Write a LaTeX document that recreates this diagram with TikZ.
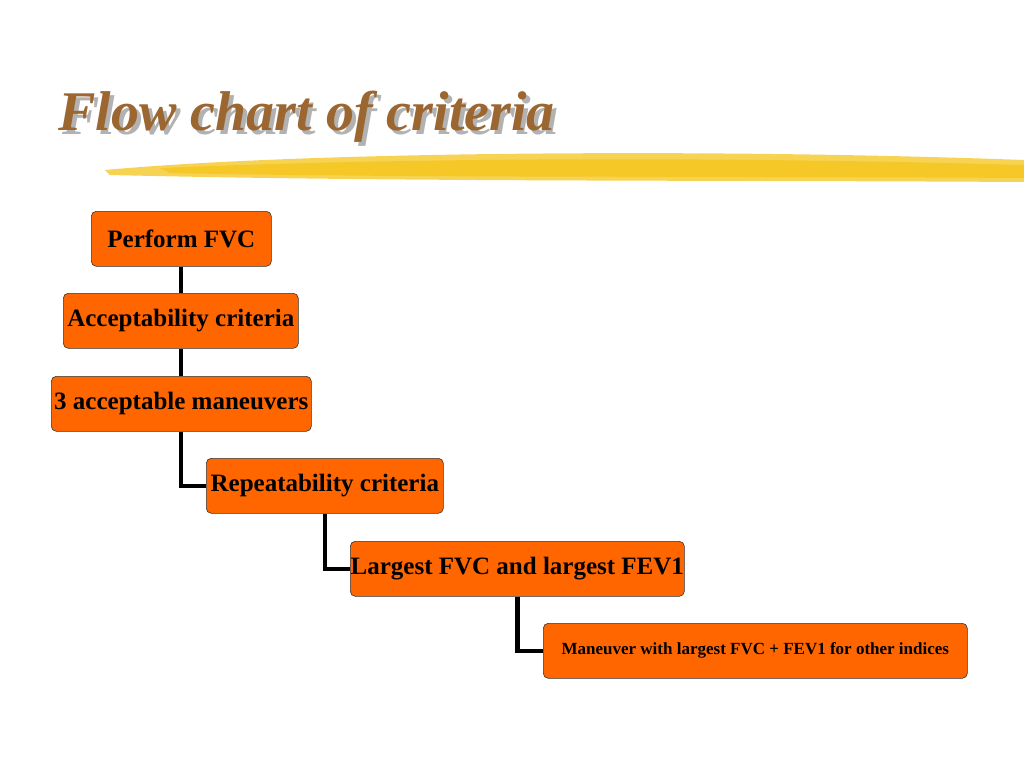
\documentclass[tikz,border=0pt]{standalone}
\usepackage{fontspec}
\setmainfont{Liberation Serif}
\begin{document}
\begin{tikzpicture}[x=1pt,y=-1pt,
  box/.style={draw=black!80,fill={rgb,255:red,255;green,102;blue,0},rounded corners=5pt,line width=0.6pt,font=\bfseries\fontsize{25}{28}\selectfont,inner sep=0pt,anchor=north west},
  link/.style={line width=4.5pt}]
\useasboundingbox (0,0) rectangle (1024,768);
\definecolor{brn}{RGB}{155,102,48}
\definecolor{yel}{RGB}{245,200,40}
% brush stroke
\fill[yel!80] (105,170) .. controls (300,152) and (700,148) .. (1024,160) -- (1024,182) .. controls (700,180) and (400,182) .. (110,175) -- cycle;
\fill[yel] (160,168) .. controls (400,158) and (700,156) .. (1024,165) -- (1024,178) .. controls (700,176) and (400,178) .. (170,173) -- cycle;
% title
\node[anchor=west,text=gray!60,font=\bfseries\itshape\fontsize{56}{60}\selectfont] (tshadow) at (59,121) {Flow chart of criteria};
\node[anchor=west,text=brn,font=\bfseries\itshape\fontsize{56}{60}\selectfont] (title) at (55,117) {Flow chart of criteria};
% boxes
\node[box,minimum width=180pt,minimum height=55pt] (b1) at (91,211) {Perform FVC};
\node[box,minimum width=235pt,minimum height=55pt] (b2) at (63,293) {Acceptability criteria};
\node[box,minimum width=260pt,minimum height=55pt] (b3) at (51,376) {3 acceptable maneuvers};
\node[box,minimum width=237pt,minimum height=55pt] (b4) at (206,458) {Repeatability criteria};
\node[box,minimum width=334pt,minimum height=55pt] (b5) at (350,541) {Largest FVC and largest FEV1};
\node[box,minimum width=424pt,minimum height=55pt,font=\bfseries\fontsize{17}{19}\selectfont] (b6) at (543,623) {Maneuver with largest FVC + FEV1 for other indices};
% connectors
\draw[link] (b1.south -| 181,0) -- (b2.north -| 181,0);
\draw[link] (b2.south -| 181,0) -- (b3.north -| 181,0);
\draw[link] (b3.south -| 181,0) |- (b4.west);
\draw[link] (b4.south -| 325,0) |- (b5.west);
\draw[link] (b5.south) |- (b6.west);
\end{tikzpicture}
\end{document}
